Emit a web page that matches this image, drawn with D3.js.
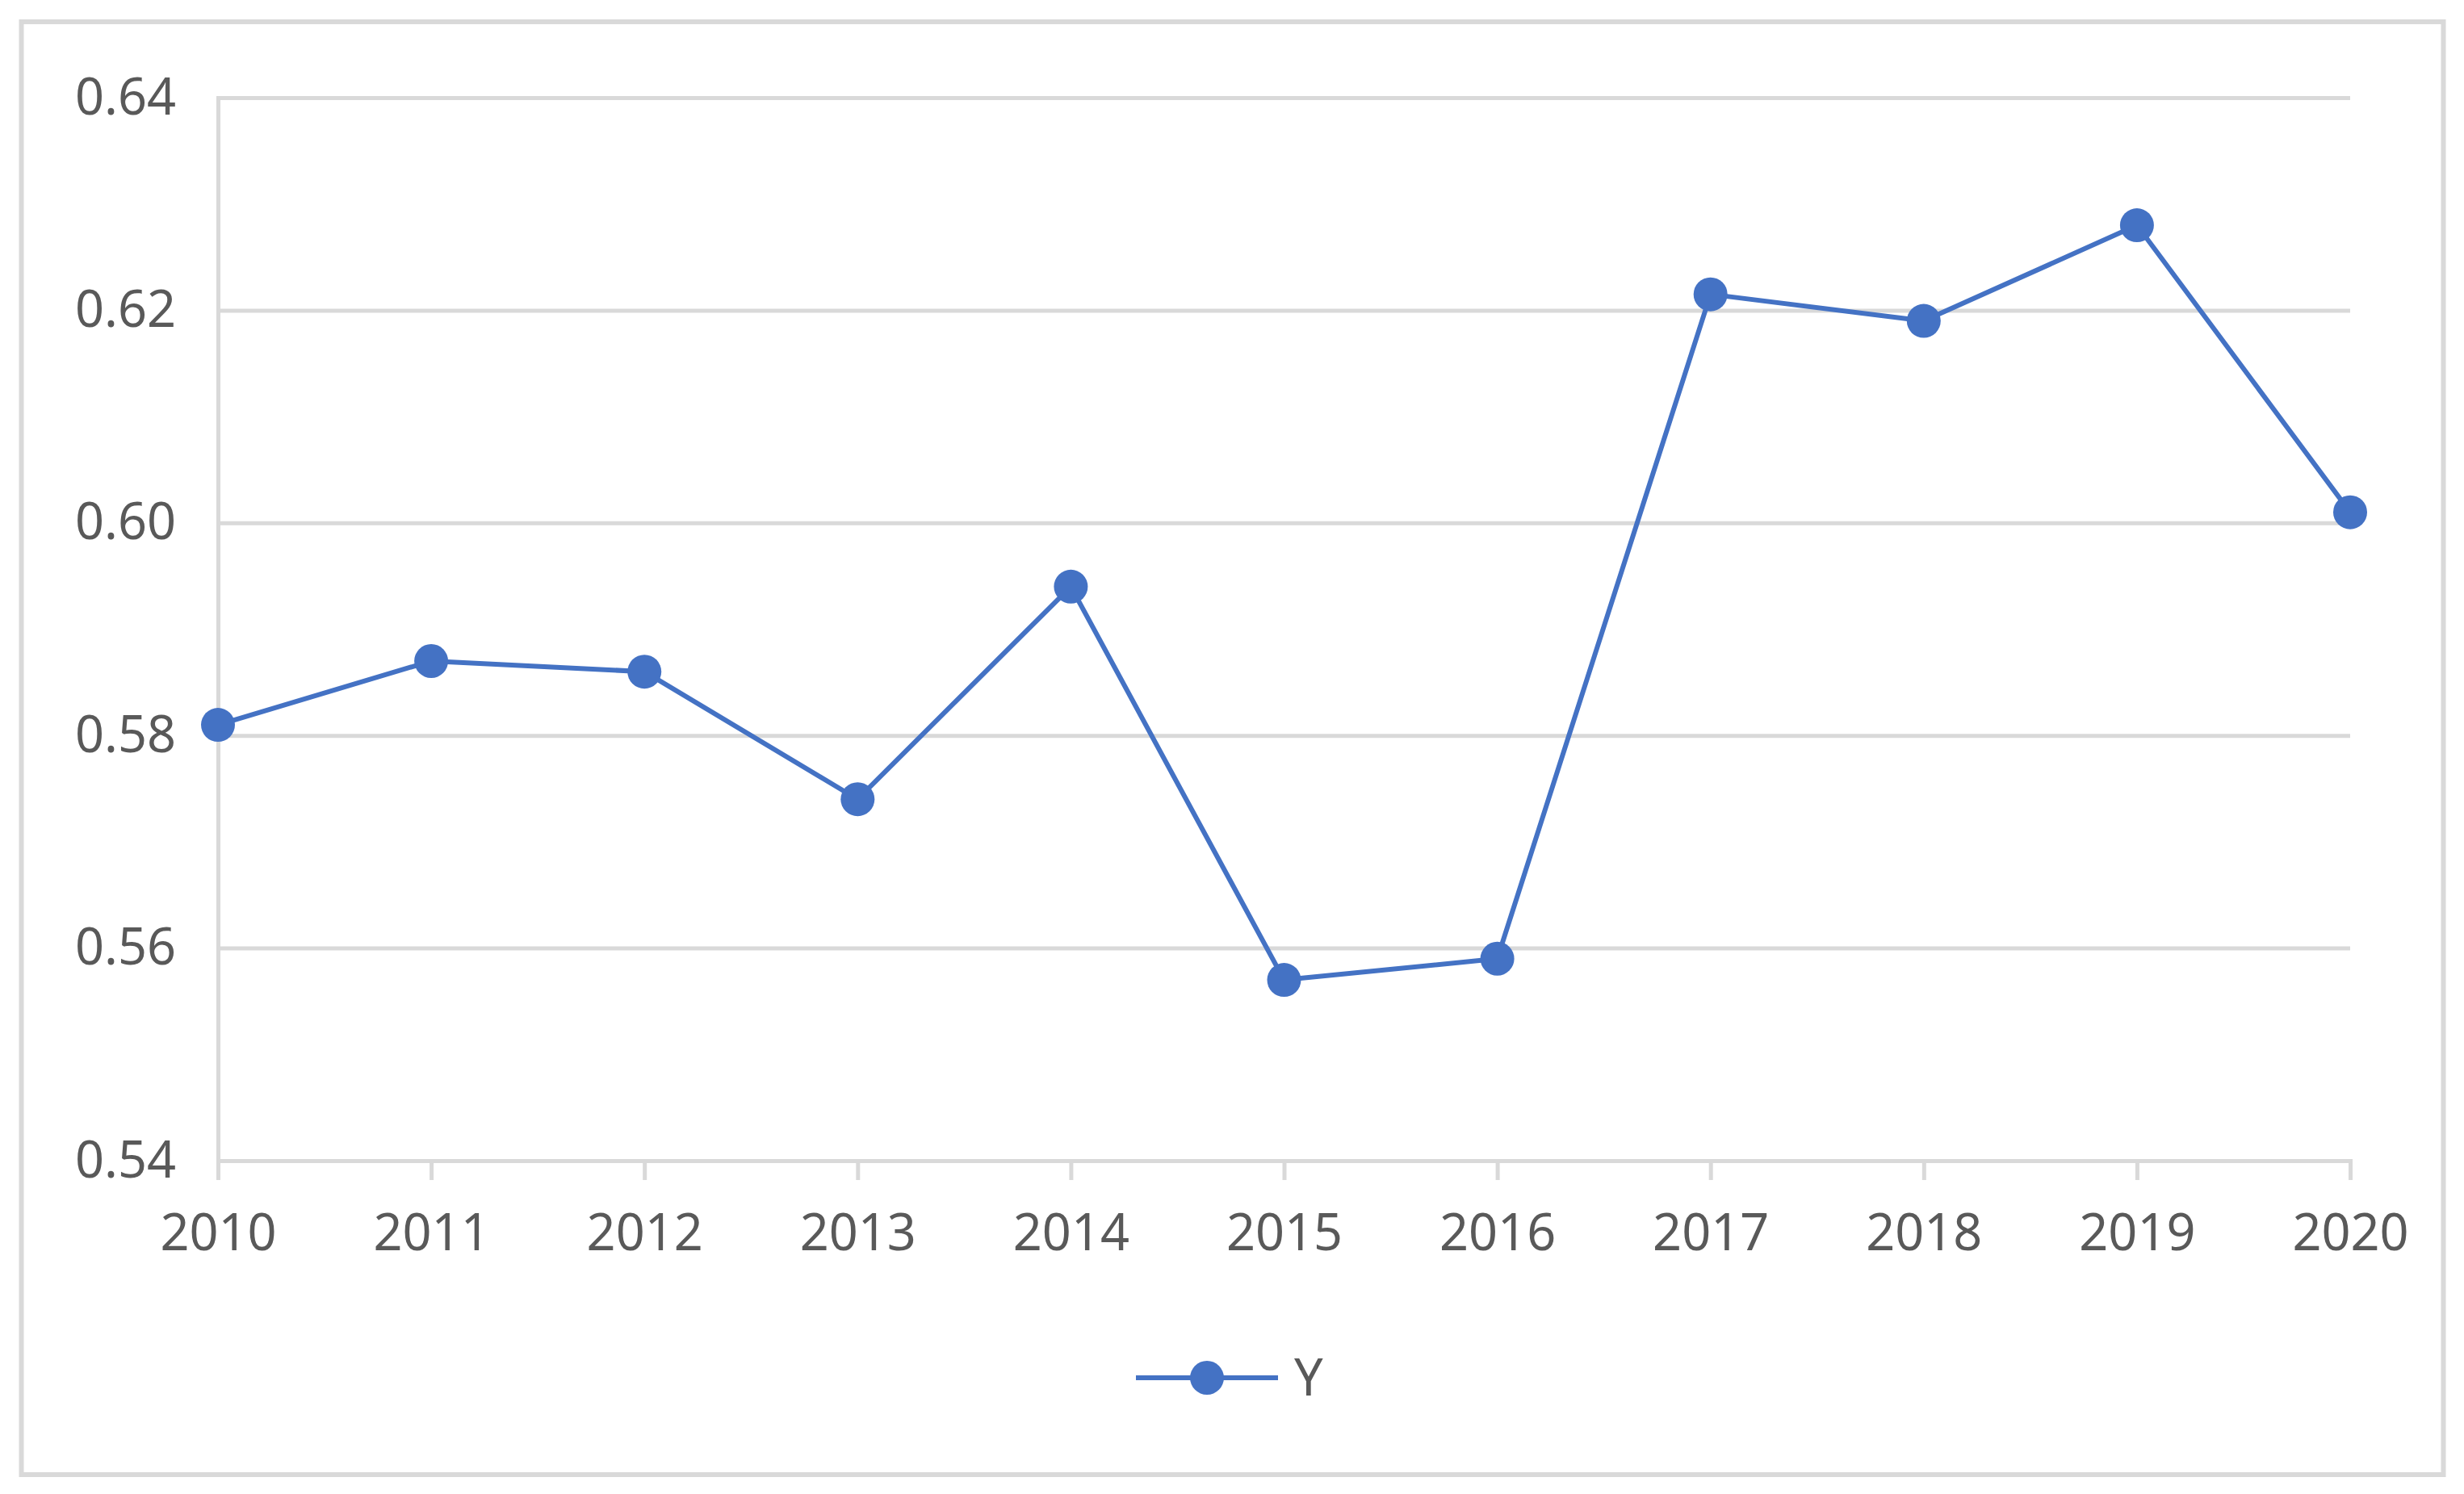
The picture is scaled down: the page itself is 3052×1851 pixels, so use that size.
<!DOCTYPE html>
<html>
<head>
<meta charset="utf-8">
<script src="https://cdn.jsdelivr.net/npm/d3@7"></script>
<style>
  html, body { margin: 0; padding: 0; background: #fff; }
  svg { display: block; }
  text { font-family: "Noto Sans", "Liberation Sans", sans-serif; }
</style>
</head>
<body>
<script>
const years = ["2010","2011","2012","2013","2014","2015","2016","2017","2018","2019","2020"];
const values = [0.581, 0.587, 0.586, 0.574, 0.594, 0.557, 0.559, 0.6215, 0.619, 0.628, 0.601];
const yTicks = [0.54, 0.56, 0.58, 0.60, 0.62, 0.64];
const seriesName = "Y";

(function () {
const W = 3052, H = 1851;
const pL = 270, pR = 2911, pT = 121, pB = 1438;
const blue = "#4472C4", grid = "#D9D9D9", textCol = "#595959";

const svg = d3.select("body").append("svg").attr("width", W).attr("height", H);

svg.append("rect").attr("x", 26.5).attr("y", 27).attr("width", 3000).attr("height", 1800)
  .attr("fill", "#fff").attr("stroke", grid).attr("stroke-width", 6);

const x = d3.scalePoint().domain(years).range([pL, pR]);
const y = d3.scaleLinear().domain([0.54, 0.64]).range([pB, pT]);

// gridlines + y labels
const yAxis = d3.axisLeft(y).tickValues(yTicks).tickSize(-(pR - pL)).tickFormat(d3.format(".2f")).tickPadding(52);
const gy = svg.append("g").attr("transform", `translate(${pL},0)`).call(yAxis);
gy.select(".domain").attr("stroke", grid).attr("stroke-width", 5);
gy.selectAll(".tick line").attr("stroke", grid).attr("stroke-width", 5);
gy.selectAll(".tick text").attr("fill", textCol).attr("font-size", 63);

// x axis
const xAxis = d3.axisBottom(x).tickSize(24).tickPadding(42);
const gx = svg.append("g").attr("transform", `translate(0,${pB})`).call(xAxis);
gx.select(".domain").attr("stroke", grid).attr("stroke-width", 5);
gx.selectAll(".tick line").attr("stroke", grid).attr("stroke-width", 5);
gx.selectAll(".tick text").attr("fill", textCol).attr("font-size", 63);

// line
const data = years.map((yr, i) => ({yr, v: values[i]}));
svg.append("path").datum(data)
  .attr("fill", "none").attr("stroke", blue).attr("stroke-width", 6).attr("stroke-linejoin", "round")
  .attr("d", d3.line().x(d => x(d.yr)).y(d => y(d.v)));
svg.selectAll("circle.pt").data(data).join("circle").attr("class", "pt")
  .attr("cx", d => x(d.yr)).attr("cy", d => y(d.v)).attr("r", 21).attr("fill", blue);

// legend
const lg = svg.append("g");
lg.append("line").attr("x1", 1407).attr("x2", 1583).attr("y1", 1707).attr("y2", 1707)
  .attr("stroke", blue).attr("stroke-width", 6);
lg.append("circle").attr("cx", 1495).attr("cy", 1707).attr("r", 21).attr("fill", blue);
lg.append("text").attr("x", 1603).attr("y", 1707).attr("dy", "0.35em")
  .attr("fill", textCol).attr("font-size", 63).text(seriesName);
})();
</script>
</body>
</html>
